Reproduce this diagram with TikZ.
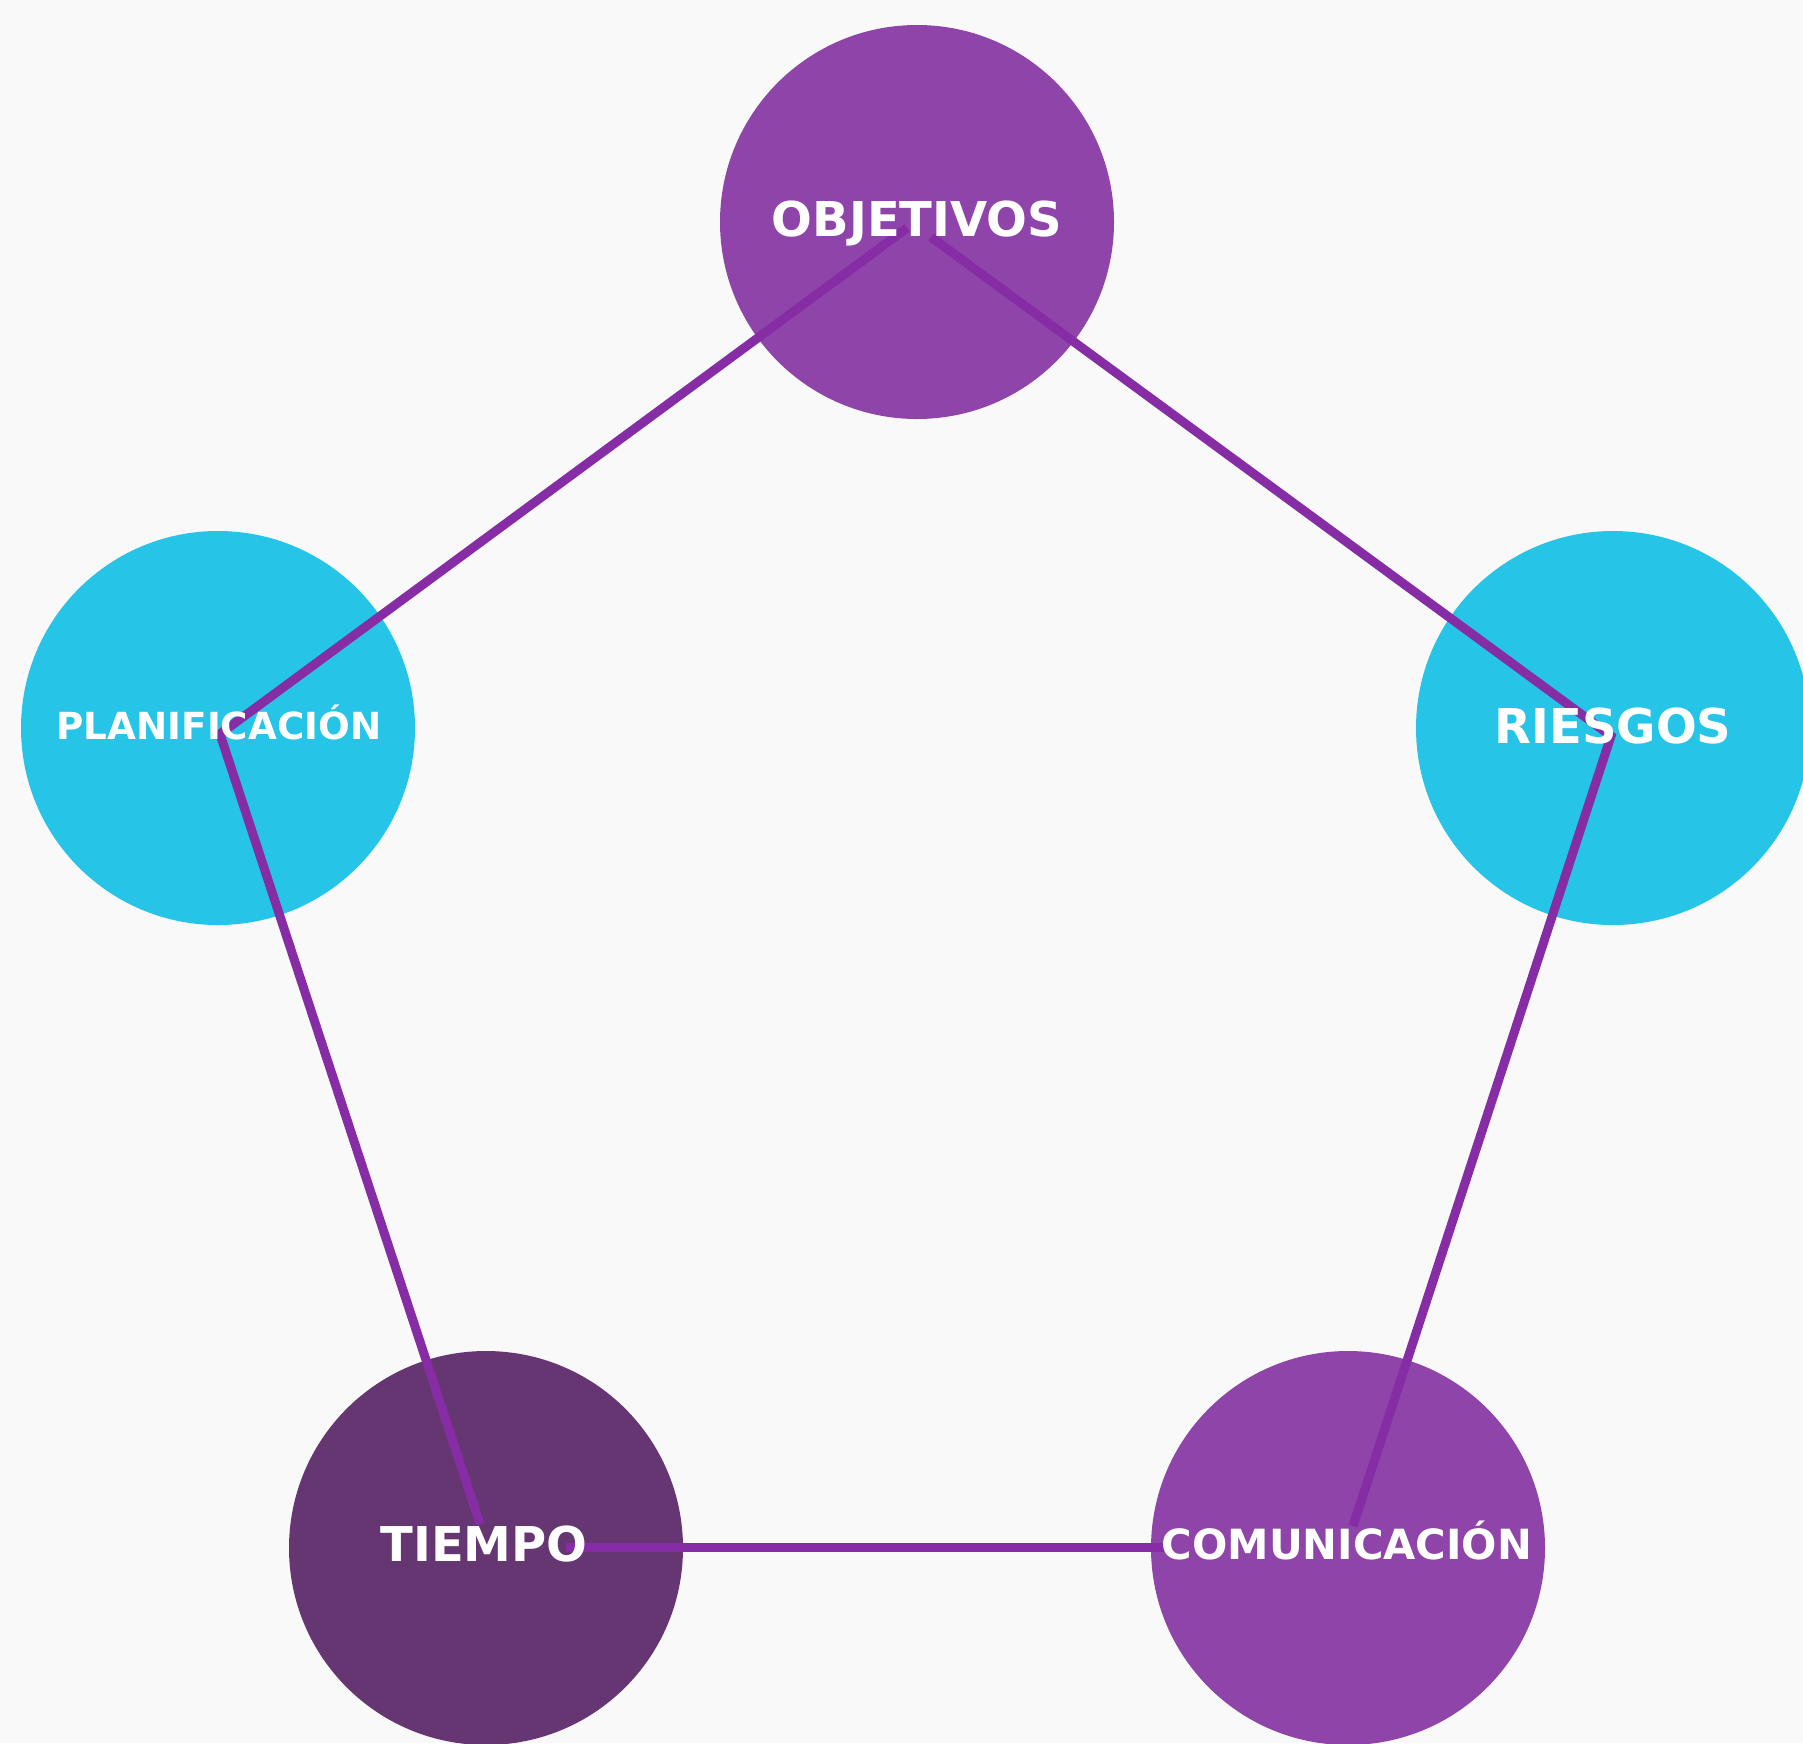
\documentclass[tikz,border=0pt]{standalone}
\usepackage{fontspec}
\setmainfont{DejaVu Sans}
\usetikzlibrary{calc}
\definecolor{bgc}{HTML}{F9F9F9}
\definecolor{violetc}{RGB}{142,68,168}
\definecolor{cyanc}{RGB}{38,196,230}
\definecolor{darkc}{RGB}{102,54,114}
\definecolor{linec}{RGB}{134,44,164}
\tikzset{
  ball/.style={circle, inner sep=0pt, minimum size=394pt, draw=none},
  link/.style={draw=linec, line width=9pt, line join=miter},
  lbl/.style={text=white, font=\bfseries, anchor=base, inner sep=0pt}
}
\begin{document}
\begin{tikzpicture}[x=1pt,y=-1pt]
\fill[bgc] (0,0) rectangle (1803,1743);
\useasboundingbox (0,0) rectangle (1803,1743);
% circles
\node[ball, fill=violetc] (obj) at (917,222) {};
\node[ball, fill=cyanc] (plan) at (218,728) {};
\node[ball, fill=cyanc] (rie) at (1613,728) {};
\node[ball, fill=darkc] (tie) at (486,1548) {};
\node[ball, fill=violetc] (com) at (1348,1548) {};
% connectors
\draw[link] ($(obj)+(-10,6)$) -- ($(plan)+(2,6)$) -- ($(tie)+(-6,-24)$);
\draw[link] ($(tie)+(80,-1)$) -- ($(com)+(-180,-1)$);
\draw[link] ($(com)+(5,-22)$) -- ($(rie)+(-2,8)$) -- ($(obj)+(14,15)$);
% labels
\node[lbl, font=\bfseries\fontsize{48}{48}\selectfont] (tobj) at (917,236) {OBJETIVOS};
\node[lbl, font=\bfseries\fontsize{37.3}{37.3}\selectfont] (tplan) at (219,739) {PLANIFICACIÓN};
\node[lbl, font=\bfseries\fontsize{48}{48}\selectfont] (trie) at (1613,743) {RIESGOS};
\node[lbl, font=\bfseries\fontsize{48}{48}\selectfont] (ttie) at (484,1561) {TIEMPO};
\node[lbl, font=\bfseries\fontsize{41.6}{41.6}\selectfont] (tcom) at (1347,1559) {COMUNICACIÓN};
\end{tikzpicture}
\end{document}
